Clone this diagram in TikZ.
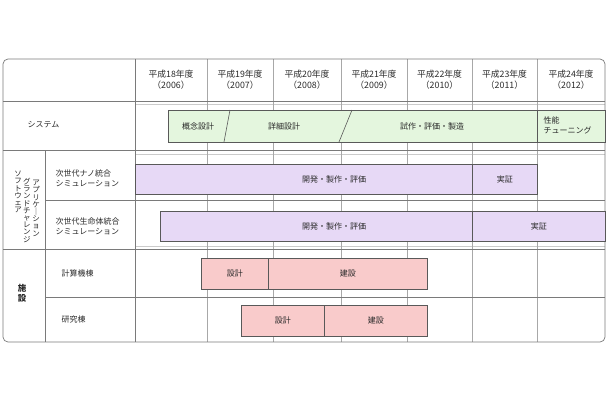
\documentclass[tikz,border=0pt]{standalone}
\usepackage{fontspec}
\setmainfont{Noto Sans CJK JP}
\usepackage{xcolor}
\usetikzlibrary{shadows}

\definecolor{gridgray}{HTML}{A8A8A8}
\definecolor{rulegray}{HTML}{7A7A7A}
\definecolor{sysgreen}{HTML}{E4F6DE}
\definecolor{swpurple}{HTML}{E7D9F6}
\definecolor{facpink}{HTML}{F9CBCB}
\definecolor{labeltext}{HTML}{2A2A2A}

\begin{document}
\begin{tikzpicture}[x=1pt,y=-1pt,
  font=\fontsize{8}{10}\selectfont, text=labeltext,
  grid/.style={gridgray, line width=0.5pt},
  rule/.style={rulegray, line width=0.6pt},
  faint/.style={gridgray!60, line width=0.4pt},
  bar/.style={draw=black!65, line width=0.6pt, anchor=north west, inner sep=0pt,
    drop shadow={shadow xshift=0.8pt, shadow yshift=-0.8pt, fill=black!55, opacity=1}},
  sysbar/.style={bar, fill=sysgreen, minimum height=32pt},
  swbar/.style={bar, fill=swpurple, minimum height=30pt},
  facbar/.style={bar, fill=facpink, minimum height=31pt},
  year/.style={align=center, font=\fontsize{8.8}{11}\selectfont},
  vstack/.style={align=center, anchor=north, inner sep=0pt, font=\fontsize{7.5}{7.2}\selectfont}]
  \useasboundingbox (0,0) rectangle (610,400);

  % table grid
  \draw[faint] (135,104) -- (605,104);
  \draw[faint] (135,154) -- (605,154);
  \draw[faint] (135,246) -- (605,246);
  \draw[grid] (207,59) -- (207,342);
  \draw[grid] (273,59) -- (273,342);
  \draw[grid] (341,59) -- (341,342);
  \draw[grid] (407,59) -- (407,342);
  \draw[grid] (472,59) -- (472,342);
  \draw[grid] (537,59) -- (537,342);
  \draw[rule] (135,59) -- (135,342);
  \draw[rule] (45,150) -- (45,342);
  \draw[rule] (3,101) -- (605,101);
  \draw[rule] (3,150) -- (605,150);
  \draw[rule] (45,200) -- (605,200);
  \draw[rule] (3,249) -- (605,249);
  \draw[rule] (45,297) -- (605,297);
  \draw[rulegray, line width=0.7pt, rounded corners=5pt] (3,59) rectangle (605,342);

  % years
  \node[year] (y06) at (171,80) {平成18年度\\（2006）};
  \node[year] (y07) at (240,80) {平成19年度\\（2007）};
  \node[year] (y08) at (307,80) {平成20年度\\（2008）};
  \node[year] (y09) at (374,80) {平成21年度\\（2009）};
  \node[year] (y10) at (439.5,80) {平成22年度\\（2010）};
  \node[year] (y11) at (504.5,80) {平成23年度\\（2011）};
  \node[year] (y12) at (571,80) {平成24年度\\（2012）};

  % row labels
  \node[anchor=west] (system) at (24,125) {システム};
  \node[vstack] (soft) at (18,171) {ソ\\フ\\ト\\ウ\\ェ\\ア};
  \node[vstack] (grand) at (27,178) {グ\\ラ\\ン\\ド\\チ\\ャ\\レ\\ン\\ジ};
  \node[vstack] (appli) at (36,180) {ア\\プ\\リ\\ケ\\｜\\シ\\ョ\\ン};
  \node[anchor=west, align=left] (nano) at (52,178) {次世代ナノ統合\\シミュレーション};
  \node[anchor=west, align=left] (bio) at (52,226) {次世代生命体統合\\シミュレーション};
  \node[align=center, font=\fontsize{8.5}{10}\bfseries] (facility) at (22,293) {施\\設};
  \node[anchor=west] (calc) at (58,273) {計算機棟};
  \node[anchor=west] (lab) at (58,319) {研究棟};

  % system
  \node[sysbar, minimum width=369pt] (sysmain) at (168,110) {};
  \node[sysbar, minimum width=68pt] (tuning) at (537,110) {};
  \draw[black!65, line width=0.6pt] (230,110) -- (224,142);
  \draw[black!65, line width=0.6pt] (352,110) -- (339,142);
  \node (gainen) at (198,126) {概念設計};
  \node (shosai) at (284,126) {詳細設計};
  \node (shisaku) at (432,126) {試作・評価・製造};
  \node[anchor=west, align=left] (seino) at (540,125) {性能\\チューニング};

  % software
  \node[swbar, minimum width=337pt] (nanodev) at (135,164) {};
  \node[swbar, minimum width=65pt] (nanojs) at (472,164) {実証};
  \node[swbar, minimum width=312pt] (biodev) at (160,211) {};
  \node[swbar, minimum width=133pt] (biojs) at (472,211) {実証};
  \node (nanotxt) at (334,179) {開発・製作・評価};
  \node (biotxt) at (334,226) {開発・製作・評価};

  % facilities
  \node[facbar, minimum width=67pt] (calcdes) at (201,258) {設計};
  \node[facbar, minimum width=159pt] (calcbuild) at (268,258) {建設};
  \node[facbar, minimum width=83pt] (labdes) at (241,305) {設計};
  \node[facbar, minimum width=103pt] (labbuild) at (324,305) {建設};
\end{tikzpicture}
\end{document}
